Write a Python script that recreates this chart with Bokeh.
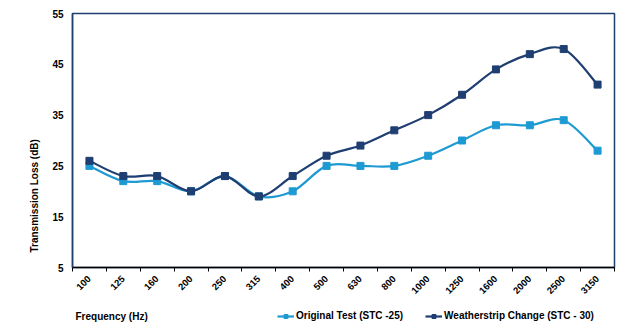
import numpy as np
from bokeh.plotting import figure
from bokeh.layouts import column
from bokeh.models import (Range1d, FixedTicker, Legend, LegendItem, Title, Label)
from bokeh.embed import file_html
from bokeh.resources import INLINE

frequencies = ["100", "125", "160", "200", "250", "315", "400", "500", "630",
               "800", "1000", "1250", "1600", "2000", "2500", "3150"]
original_test = [25, 22, 22, 20, 23, 19, 20, 25, 25, 25, 27, 30, 33, 33, 34, 28]
weatherstrip = [26, 23, 23, 20, 23, 19, 23, 27, 29, 32, 35, 39, 44, 47, 48, 41]
y_ticks = [5, 15, 25, 35, 45, 55]

ORIG_COLOR = "#1E9AD3"
WEATHER_COLOR = "#1F3E72"
FONT = "Liberation Sans"

W, H = 628, 329
H1 = 300            # main figure height
FL, FT, FR, FB = 72, 13, 614, 267  # frame pixel edges

n = len(frequencies)
p = figure(width=W, height=H1, output_backend="svg", toolbar_location=None,
           x_range=Range1d(0, n), y_range=Range1d(5, 55),
           min_border_left=FL, min_border_top=FT, min_border_right=W - FR,
           min_border_bottom=H1 - FB)
p.background_fill_color = "white"
p.border_fill_color = "white"
p.outline_line_color = WEATHER_COLOR
p.outline_line_width = 1.5
p.grid.visible = False

xs = np.arange(n) + 0.5


def smooth(ys, color):
    ys = np.asarray(ys, dtype=float)
    pts_x = np.concatenate([[xs[0]], xs, [xs[-1]]])
    pts_y = np.concatenate([[ys[0]], ys, [ys[-1]]])
    t = 1.0 / 6.0
    x0 = xs[:-1]; y0 = ys[:-1]; x1 = xs[1:]; y1 = ys[1:]
    cx0 = x0 + (pts_x[2:-1] - pts_x[0:-3]) * t
    cy0 = y0 + (pts_y[2:-1] - pts_y[0:-3]) * t
    cx1 = x1 - (pts_x[3:] - pts_x[1:-2]) * t
    cy1 = y1 - (pts_y[3:] - pts_y[1:-2]) * t
    p.bezier(x0=x0, y0=y0, x1=x1, y1=y1, cx0=cx0, cy0=cy0, cx1=cx1, cy1=cy1,
             line_color=color, line_width=2.2)
    p.scatter(xs, ys, marker="square", size=7, fill_color=color,
              line_color=color)


smooth(original_test, ORIG_COLOR)
smooth(weatherstrip, WEATHER_COLOR)

# axes
xaxis = p.xaxis[0]
xaxis.ticker = FixedTicker(ticks=list(xs), minor_ticks=list(range(n + 1)))
xaxis.major_label_overrides = {float(x): f for x, f in zip(xs, frequencies)}
xaxis.major_tick_out = 0
xaxis.major_tick_in = 0
xaxis.minor_tick_out = 4
xaxis.minor_tick_in = 0
xaxis.minor_tick_line_color = "black"
xaxis.axis_line_color = "black"
xaxis.axis_line_width = 1.5
xaxis.major_label_orientation = np.pi / 4
xaxis.major_label_text_font = FONT
xaxis.major_label_text_font_style = "bold"
xaxis.major_label_text_font_size = "9.5px"
xaxis.major_label_text_color = "black"
xaxis.major_label_standoff = 6

yaxis = p.yaxis[0]
yaxis.ticker = FixedTicker(ticks=y_ticks)
yaxis.major_tick_out = 0
yaxis.major_tick_in = 0
yaxis.minor_tick_out = 0
yaxis.minor_tick_in = 0
yaxis.axis_line_color = WEATHER_COLOR
yaxis.axis_line_width = 1.5
yaxis.major_label_text_font = FONT
yaxis.major_label_text_font_style = "bold"
yaxis.major_label_text_font_size = "10px"
yaxis.major_label_text_color = "black"
yaxis.major_label_standoff = 9

p.add_layout(Title(text="Transmission Loss (dB)", align="left", offset=15,
                   standoff=20, text_font=FONT, text_font_style="bold",
                   text_font_size="10px", text_color="black"), "left")

# bottom strip: x-axis title and legend (its frame is aligned with the main one)
H2 = H - H1
q = figure(width=W, height=H2, output_backend="svg", toolbar_location=None,
           x_range=Range1d(0, FR - FL), y_range=Range1d(0, H2),
           x_axis_type=None, y_axis_type=None,
           min_border=0, min_border_left=0, min_border_right=0,
           min_border_top=0, min_border_bottom=0)
q.outline_line_color = None
q.grid.visible = False
q.background_fill_color = "white"
q.border_fill_color = "white"

# hidden copies of the series, used only to draw the legend glyphs
lo1 = q.line(x=xs, y=original_test, line_color=ORIG_COLOR, line_width=2.2,
             visible=False)
so1 = q.scatter(x=xs, y=original_test, marker="square", size=7,
                fill_color=ORIG_COLOR, line_color=ORIG_COLOR, visible=False)
lo2 = q.line(x=xs, y=weatherstrip, line_color=WEATHER_COLOR, line_width=2.2,
             visible=False)
so2 = q.scatter(x=xs, y=weatherstrip, marker="square", size=7,
                fill_color=WEATHER_COLOR, line_color=WEATHER_COLOR,
                visible=False)

q.add_layout(Label(x=75 - FL, y=H - 316, text="Frequency (Hz)",
                   text_align="left", text_baseline="middle", text_font=FONT,
                   text_font_style="bold", text_font_size="10px",
                   text_color="black"))

legend = Legend(items=[
    LegendItem(label="Original Test (STC -25)", renderers=[lo1, so1]),
    LegendItem(label="Weatherstrip Change (STC - 30)", renderers=[lo2, so2]),
], orientation="horizontal", location=(277 - FL, 8),
    padding=0, margin=0, spacing=22, glyph_width=17, glyph_height=10,
    label_height=10, label_standoff=2, border_line_color=None,
    background_fill_alpha=0, inactive_fill_alpha=0, label_text_font=FONT,
    label_text_font_style="bold", label_text_font_size="10px",
    label_text_color="black")
q.add_layout(legend, "center")

layout = column(p, q, spacing=0)
open("out.html", "w").write(file_html(layout, INLINE))
